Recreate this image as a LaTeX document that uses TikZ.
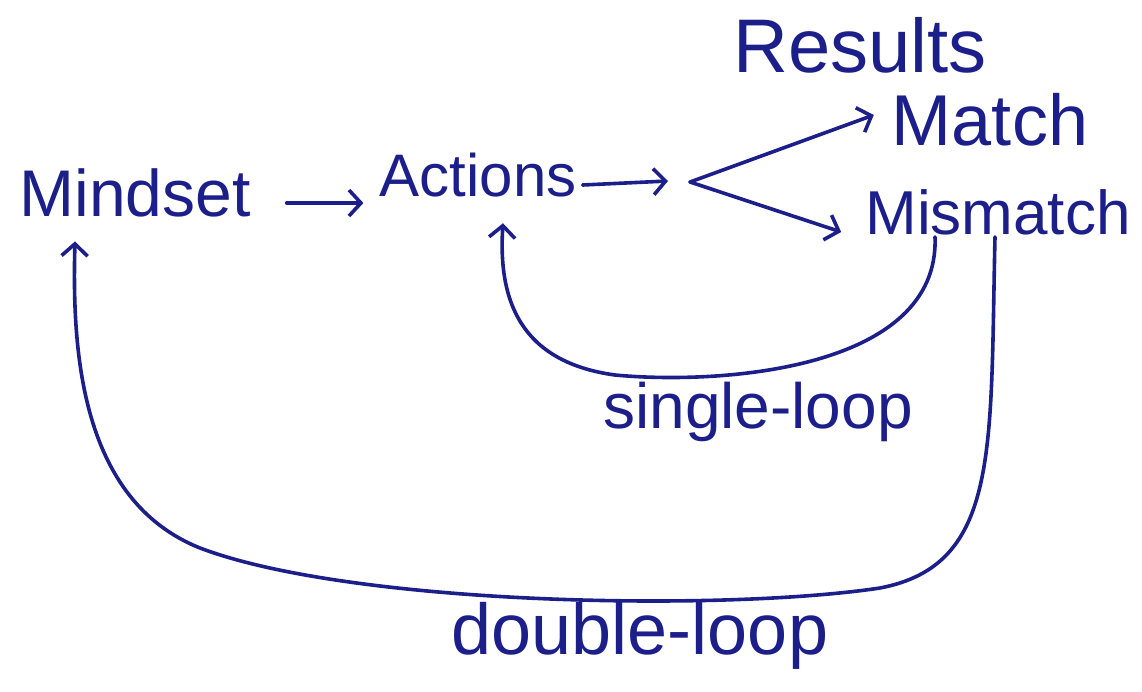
\documentclass[tikz,border=0pt]{standalone}
\usepackage{fontspec}
\setmainfont{Liberation Sans}
\usetikzlibrary{arrows.meta}
\definecolor{ink}{HTML}{1C1F8A}
\newcommand\fsz[1]{\fontsize{#1}{#1}\selectfont}
\tikzset{
  lab/.style={text=ink, inner sep=6pt},
  conn/.style={draw=ink, line width=3.6pt, line cap=round, line join=round,
    -{Straight Barb[length=12pt,width=26pt,line width=3.6pt]}},
}
\begin{document}
\begin{tikzpicture}[x=1pt,y=-1pt]
\useasboundingbox[fill=white] (0,0) rectangle (1142,691);
\node[lab, font=\fsz{66}] (mind) at (135,193) {Mindset};
\node[lab, font=\fsz{60}] (act) at (478,175) {Actions};
\node[lab, font=\fsz{76}] (res) at (860,45) {Results};
\node[lab, font=\fsz{72}] (match) at (990,120) {Match};
\node[lab, font=\fsz{62}] (mis) at (998,212) {Mismatch};
\node[lab, font=\fsz{64}] (single) at (758,412) {single-loop};
\node[lab, font=\fsz{72}] (double) at (640,636) {double-loop};
\coordinate (j) at (668,181);
\coordinate (j2) at (690,182);
\draw[conn] ([xshift=30pt,yshift=-10pt]mind.east) -- ([xshift=-10pt,yshift=-28pt]act.west);
\draw[conn] ([yshift=-10pt]act.east) -- (j);
\draw[conn] (j2) -- ([xshift=-12pt,yshift=5pt]match.west);
\draw[conn] (j2) -- ([xshift=-18pt,yshift=-20pt]mis.west);
\draw[conn] ([xshift=-63pt,yshift=4pt]mis.south) .. controls (940,370) and (720,385) .. (615,375)
  .. controls (520,362) and (498,300) .. ([xshift=25pt,yshift=-20pt]act.south);
\draw[conn] ([xshift=-3pt,yshift=4pt]mis.south) .. controls (990,450) and (1000,565) .. (880,588)
  .. controls (720,612) and (350,605) .. (200,548)
  .. controls (80,500) and (72,350) .. ([xshift=-60pt,yshift=-18pt]mind.south);
\end{tikzpicture}
\end{document}
